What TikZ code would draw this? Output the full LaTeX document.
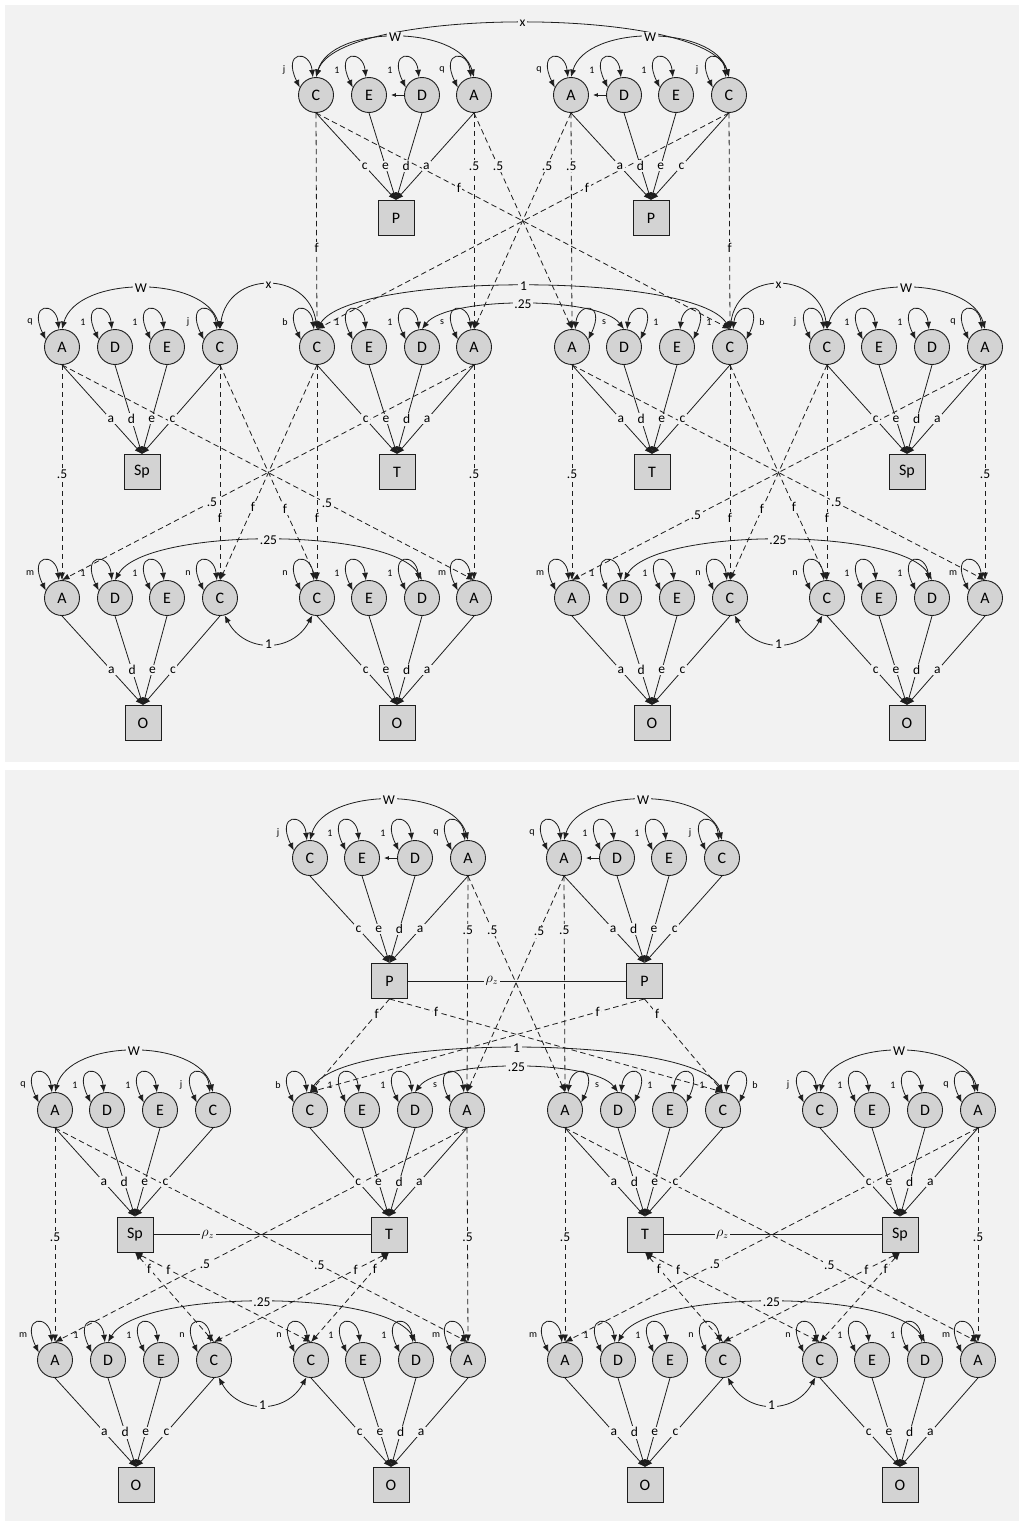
\documentclass[tikz,border=0pt]{standalone}
\usepackage{fontspec}
\setmainfont{Carlito}
\usetikzlibrary{arrows.meta}
\definecolor{bgc}{HTML}{F2F2F2}
\definecolor{nfill}{HTML}{D3D3D3}
\definecolor{ln}{HTML}{1E1E1E}
\tikzset{
 lat/.style={circle, draw=ln, fill=nfill, line width=0.9pt, minimum size=35pt, inner sep=0pt, font=\fontsize{16}{16}\selectfont},
 obs/.style={rectangle, draw=ln, fill=nfill, line width=0.9pt, minimum width=36pt, minimum height=35pt, inner sep=0pt, font=\fontsize{16}{16}\selectfont},
 sarr/.style={draw=ln, line width=0.8pt, ->},
 dbl/.style={draw=ln, line width=0.8pt, <->},
 darr/.style={draw=ln, line width=0.8pt, dash pattern=on 5.5pt off 3.5pt, ->},
 ddbl/.style={draw=ln, line width=0.8pt, dash pattern=on 5.5pt off 3.5pt, <->},
 sline/.style={draw=ln, line width=0.8pt},
 lab/.style={fill=bgc, inner sep=1.6pt, font=\fontsize{13.5}{13.5}\selectfont},
 llab/.style={font=\fontsize{10}{10}\selectfont, inner sep=0pt},
}
\newcommand\tb[3]{\draw[sarr] (#1.south) -- node[lab,pos=0.61]{#3} (#2.north);}
\newcommand\lpL[2]{\draw[dbl] (#1.155) .. controls +(-18,-37) and +(-3,-28) .. (#1.100); \path (#1) ++(-32,-25) node[llab]{#2};}
\newcommand\lpR[2]{\draw[dbl] (#1.25) .. controls +(18,-37) and +(3,-28) .. (#1.80); \path (#1) ++(32,-25) node[llab]{#2};}
\newcommand\arcU[5]{\draw[dbl] (#1.north) .. controls +(#4,-#3) and +(-#4,-#3) .. (#2.north) node[lab,midway]{#5};}
\newcommand\arcD[4]{\draw[dbl] (#1.-75) .. controls +(20,#3) and +(-20,#3) .. (#2.-105) node[lab,midway]{#4};}
\newcommand\dl[4]{\draw[darr] (#1.south) -- node[lab,pos=#4]{#3} (#2.north);}
\newcommand\dd[4]{\draw[ddbl] (#1.south) -- node[lab,pos=#4]{#3} (#2.north);}
\newcommand\da[2]{\draw[draw=ln, line width=0.8pt, -{Latex[length=5pt,width=4pt]}, shorten >=4pt] (#1.west) -- (#2.east);}
\begin{document}
\begin{tikzpicture}[x=1pt,y=-1pt,>={Latex[length=7.5pt,width=6pt]}]
\useasboundingbox (0,0) rectangle (1024,1523);
\fill[white] (0,0) rectangle (1024,1523);
\fill[bgc] (5,5) rectangle (1019,762);
\fill[bgc] (5,770) rectangle (1019,1521);

% ---------- nodes
\foreach \n/\x/\y/\t in {
 UtlC/316/95/C, UtlE/369/95/E, UtlD/422/95/D, UtlA/474/95/A,
 UtrA/571/95/A, UtrD/624/95/D, UtrE/676/95/E, UtrC/729/95/C,
 UslA/62/347/A, UslD/115/347/D, UslE/167/347/E, UslC/220/347/C,
 UmlC/317/347/C, UmlE/369/347/E, UmlD/422/347/D, UmlA/474/347/A,
 UmrA/572/347/A, UmrD/624/347/D, UmrE/677/347/E, UmrC/730/347/C,
 UsrC/827/347/C, UsrE/879/347/E, UsrD/932/347/D, UsrA/985/347/A,
 Uo1A/62/598/A, Uo1D/115/598/D, Uo1E/167/598/E, Uo1C/220/598/C,
 Uo2C/317/598/C, Uo2E/369/598/E, Uo2D/422/598/D, Uo2A/474/598/A,
 Uo3A/572/598/A, Uo3D/624/598/D, Uo3E/677/598/E, Uo3C/730/598/C,
 Uo4C/827/598/C, Uo4E/879/598/E, Uo4D/932/598/D, Uo4A/985/598/A,
 VtlC/310/858/C, VtlE/362/858/E, VtlD/415/858/D, VtlA/468/858/A,
 VtrA/564/858/A, VtrD/617/858/D, VtrE/669/858/E, VtrC/722/858/C,
 VslA/55/1110/A, VslD/107/1110/D, VslE/160/1110/E, VslC/213/1110/C,
 VmlC/310/1110/C, VmlE/362/1110/E, VmlD/415/1110/D, VmlA/467/1110/A,
 VmrA/565/1110/A, VmrD/618/1110/D, VmrE/670/1110/E, VmrC/723/1110/C,
 VsrC/820/1110/C, VsrE/872/1110/E, VsrD/925/1110/D, VsrA/978/1110/A,
 Vo1A/55/1360/A, Vo1D/108/1360/D, Vo1E/161/1360/E, Vo1C/214/1360/C,
 Vo2C/311/1360/C, Vo2E/363/1360/E, Vo2D/416/1360/D, Vo2A/468/1360/A,
 Vo3A/565/1360/A, Vo3D/618/1360/D, Vo3E/670/1360/E, Vo3C/723/1360/C,
 Vo4C/820/1360/C, Vo4E/872/1360/E, Vo4D/925/1360/D, Vo4A/978/1360/A}
 \node[lat] (\n) at (\x,\y) {\t};
\foreach \n/\x/\y/\t in {
 UPl/396/218/P, UPr/651/218/P,
 USpl/142/472/Sp, UTl/397/472/T, UTr/652/472/T, USpr/907/472/Sp,
 UO1/143/723/O, UO2/397/723/O, UO3/652/723/O, UO4/907/723/O,
 VPl/389.5/981/P, VPr/644.5/981/P,
 VSpl/135/1234.5/Sp, VTl/389/1234.5/T, VTr/645/1234.5/T, VSpr/900/1234.5/Sp,
 VO1/136/1485/O, VO2/391/1485/O, VO3/645/1485/O, VO4/900/1485/O}
 \node[obs] (\n) at (\x,\y) {\t};

% ---------- loops
\foreach \g in {Utl,Utr,Usl,Usr,Vtl,Vtr,Vsl,Vsr}
 {\lpL{\g C}{j}\lpL{\g E}{1}\lpL{\g D}{1}\lpL{\g A}{q}}
\foreach \g in {Uml,Vml}
 {\lpL{\g C}{b}\lpL{\g E}{1}\lpL{\g D}{1}\lpL{\g A}{s}}
\foreach \g in {Umr,Vmr}
 {\lpR{\g C}{b}\lpR{\g E}{1}\lpR{\g D}{1}\lpR{\g A}{s}}
\foreach \g in {Uo1,Uo2,Uo3,Uo4,Vo1,Vo2,Vo3,Vo4}
 {\lpL{\g C}{n}\lpL{\g E}{1}\lpL{\g D}{1}\lpL{\g A}{m}}

% ---------- D -> E / A short arrows
\da{UtlD}{UtlE}
\da{UtrD}{UtrA}
\da{VtlD}{VtlE}
\da{VtrD}{VtrA}

% ---------- dashed paths, upper panel
\dl{UtlC}{UmlC}{f}{0.624}
\dl{UtlC}{UmrC}{f}{0.345}
\dl{UtlA}{UmlA}{.5}{0.247}
\dl{UtlA}{UmrA}{.5}{0.246}
\dl{UtrA}{UmrA}{.5}{0.247}
\dl{UtrA}{UmlA}{.5}{0.247}
\dl{UtrC}{UmrC}{f}{0.624}
\dl{UtrC}{UmlC}{f}{0.345}
\dl{UslA}{Uo1A}{.5}{0.507}
\dl{UslA}{Uo2A}{.5}{0.643}
\dl{UslC}{Uo1C}{f}{0.711}
\dl{UslC}{Uo2C}{f}{0.67}
\dl{UmlC}{Uo2C}{f}{0.711}
\dl{UmlC}{Uo1C}{f}{0.66}
\dl{UmlA}{Uo2A}{.5}{0.507}
\dl{UmlA}{Uo1A}{.5}{0.636}
\dl{UmrA}{Uo3A}{.5}{0.507}
\dl{UmrA}{Uo4A}{.5}{0.64}
\dl{UmrC}{Uo3C}{f}{0.711}
\dl{UmrC}{Uo4C}{f}{0.66}
\dl{UsrC}{Uo4C}{f}{0.711}
\dl{UsrC}{Uo3C}{f}{0.67}
\dl{UsrA}{Uo4A}{.5}{0.507}
\dl{UsrA}{Uo3A}{.5}{0.70}

% ---------- dashed paths, lower panel
\dl{VtlA}{VmlA}{.5}{0.251}
\dl{VtlA}{VmrA}{.5}{0.25}
\dl{VtrA}{VmrA}{.5}{0.251}
\dl{VtrA}{VmlA}{.5}{0.258}
\dl{VPl}{VmlC}{f}{0.16}
\dl{VPl}{VmrC}{f}{0.14}
\dl{VPr}{VmrC}{f}{0.16}
\dl{VPr}{VmlC}{f}{0.14}
\dl{VslA}{Vo1A}{.5}{0.509}
\dl{VslA}{Vo2A}{.5}{0.64}
\dl{VmlA}{Vo2A}{.5}{0.509}
\dl{VmlA}{Vo1A}{.5}{0.636}
\dl{VmrA}{Vo3A}{.5}{0.509}
\dl{VmrA}{Vo4A}{.5}{0.64}
\dl{VsrA}{Vo4A}{.5}{0.509}
\dl{VsrA}{Vo3A}{.5}{0.637}
\dd{VSpl}{Vo1C}{f}{0.18}
\dd{VSpl}{Vo2C}{f}{0.19}
\dd{VTl}{Vo2C}{f}{0.18}
\dd{VTl}{Vo1C}{f}{0.19}
\dd{VTr}{Vo3C}{f}{0.18}
\dd{VTr}{Vo4C}{f}{0.19}
\dd{VSpr}{Vo4C}{f}{0.18}
\dd{VSpr}{Vo3C}{f}{0.19}

% ---------- paths to observed boxes
\foreach \g/\b in {Utl/UPl,Utr/UPr,Usl/USpl,Uml/UTl,Umr/UTr,Usr/USpr,
 Uo1/UO1,Uo2/UO2,Uo3/UO3,Uo4/UO4,Vtl/VPl,Vtr/VPr,Vsl/VSpl,Vml/VTl,Vmr/VTr,Vsr/VSpr,
 Vo1/VO1,Vo2/VO2,Vo3/VO3,Vo4/VO4}
 {\tb{\g C}{\b}{c}\tb{\g E}{\b}{e}\tb{\g D}{\b}{d}\tb{\g A}{\b}{a}}

% ---------- rho_z lines
\draw[sline] (VPl.east) -- node[lab,pos=0.385]{$\rho_z$} (VPr.west);
\draw[sline] (VSpl.east) -- node[lab,pos=0.25]{$\rho_z$} (VTl.west);
\draw[sline] (VTr.east) -- node[lab,pos=0.27]{$\rho_z$} (VSpr.west);

% ---------- arcs
\arcU{UtlC}{UtrC}{71.3}{22}{x}
\arcU{UtlC}{UtlA}{52.7}{15}{W}
\arcU{UtrA}{UtrC}{52.7}{15}{W}
\arcU{UslA}{UslC}{54}{15}{W}
\arcU{UslC}{UmlC}{59}{8}{x}
\arcU{UmlC}{UmrC}{57}{35}{1}
\arcU{UmlD}{UmrD}{33}{25}{.25}
\arcU{UmrC}{UsrC}{59}{8}{x}
\arcU{UsrC}{UsrA}{54}{15}{W}
\arcU{Uo1D}{Uo2D}{53}{30}{.25}
\arcU{Uo3D}{Uo4D}{53}{30}{.25}
\arcD{Uo1C}{Uo2C}{38}{1}
\arcD{Uo3C}{Uo4C}{38}{1}
\arcU{VtlC}{VtlA}{53}{15}{W}
\arcU{VtrA}{VtrC}{53}{15}{W}
\arcU{VslA}{VslC}{54}{15}{W}
\arcU{VsrC}{VsrA}{54}{15}{W}
\arcU{VmlC}{VmrC}{58}{35}{1}
\arcU{VmlD}{VmrD}{33}{25}{.25}
\arcU{Vo1D}{Vo2D}{53}{30}{.25}
\arcU{Vo3D}{Vo4D}{53}{30}{.25}
\arcD{Vo1C}{Vo2C}{37}{1}
\arcD{Vo3C}{Vo4C}{37}{1}
\end{tikzpicture}
\end{document}
